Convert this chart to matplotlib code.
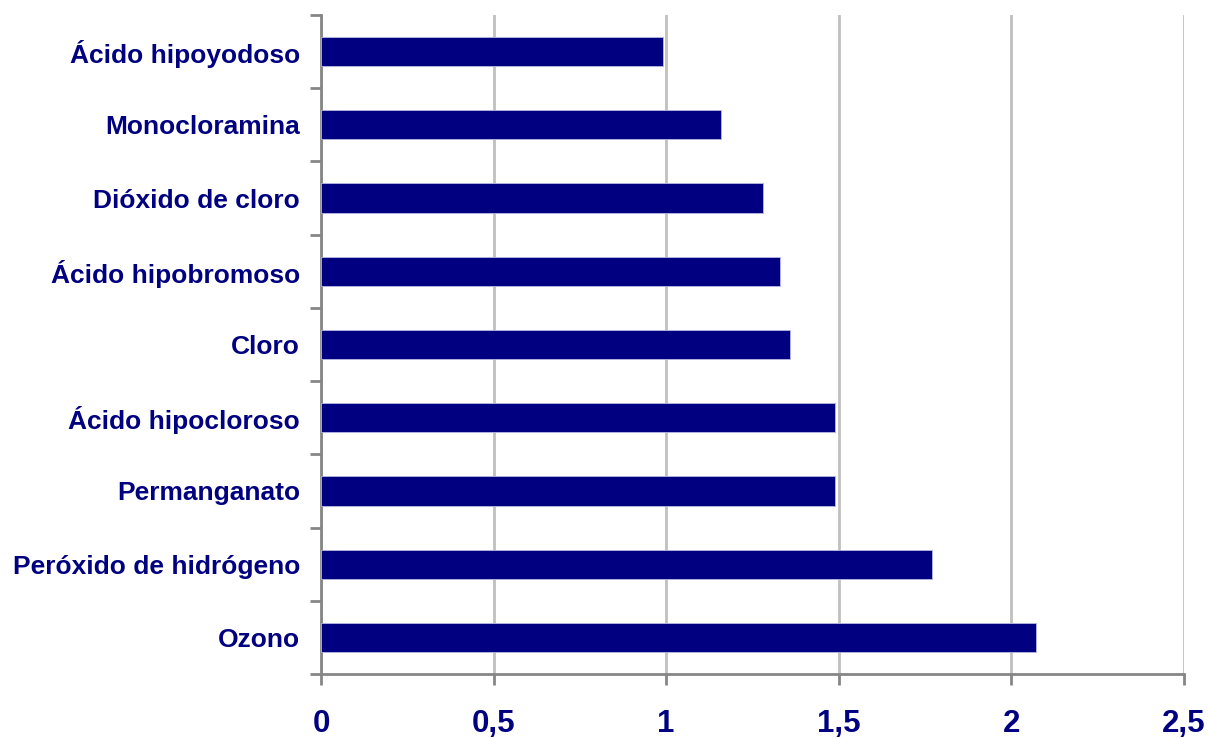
import numpy as np
import matplotlib.pyplot as plt
from matplotlib.ticker import FixedLocator

# Potencial de oxidación (V), de abajo hacia arriba
nombres = ['Ozono', 'Peróxido de hidrógeno', 'Permanganato', 'Ácido hipocloroso',
           'Cloro', 'Ácido hipobromoso', 'Dióxido de cloro', 'Monocloramina',
           'Ácido hipoyodoso']
valores = [2.07, 1.77, 1.49, 1.49, 1.36, 1.33, 1.28, 1.16, 0.99]
xticks = [0, 0.5, 1, 1.5, 2, 2.5]
xlabels = ['0', '0,5', '1', '1,5', '2', '2,5']

azul = '#000080'
gris = '#868686'

plt.rcParams['font.family'] = ['Liberation Sans', 'DejaVu Sans']

fig = plt.figure(figsize=(12.09, 7.38), dpi=100)
ax = fig.add_axes([0.2655, 0.0867, 0.9793 - 0.2655, 0.9797 - 0.0867])

y = np.arange(len(nombres))
ax.barh(y, valores, height=0.4, color=azul, edgecolor='#b8b8e0', linewidth=0.6, zorder=3)

ax.set_xlim(0, 2.5)
ax.set_ylim(-0.5, len(nombres) - 0.5)

ax.set_xticks(xticks)
ax.set_xticklabels(xlabels, fontsize=22.5, fontweight='bold', color=azul)
ax.grid(axis='x', color='#c0c0c0', linewidth=2, zorder=0)

# etiquetas de categoria centradas, ticks en los limites
ax.set_yticks(y)
ax.set_yticklabels(nombres, fontsize=19, fontweight='bold', color=azul)
ax.tick_params(axis='y', length=0, pad=15)
ax.yaxis.set_minor_locator(FixedLocator(np.arange(len(nombres) + 1) - 0.5))
ax.tick_params(axis='y', which='minor', length=8, width=2, color=gris)
ax.tick_params(axis='x', length=8, width=2, color=gris, pad=17)

for s in ['top', 'right']:
    ax.spines[s].set_visible(False)
for s in ['left', 'bottom']:
    ax.spines[s].set_color(gris)
    ax.spines[s].set_linewidth(2)

plt.savefig('out.png', dpi=100)
